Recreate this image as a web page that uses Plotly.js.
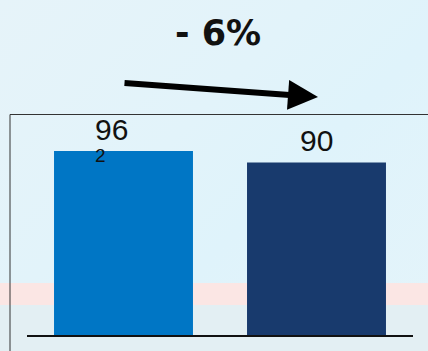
<!DOCTYPE html>
<html>
<head>
<meta charset="utf-8">
<script src="https://cdn.plot.ly/plotly-3.0.1.min.js"></script>
<style>
  html, body { margin: 0; padding: 0; }
  body {
    width: 428px; height: 351px; overflow: hidden;
    background: linear-gradient(135deg, #e6f3f9 0%, #e2f3fa 40%, #dff3fb 60%, #e4f4fa 100%);
  }
  #chart { width: 428px; height: 351px; }
</style>
</head>
<body>
<div id="chart"></div>
<script>
// ---- data ----
const categories = ["A", "B"];
const values = [96, 90];
const valueLabels = ["96", "90"];
const labelSuffix = ["2", ""];
const barColors = ["#0076C5", "#183A6D"];
const changeLabel = "- 6%";

const W = 428, H = 351;
const px = v => v / W;
const py = v => 1 - v / H;

const trace = {
  type: "bar",
  x: [0, 1],
  y: values,
  marker: { color: barColors, line: { width: 0 } },
  hoverinfo: "skip",
  showlegend: false
};

const annotations = [];
values.forEach((v, i) => {
  annotations.push({
    x: i, y: v, xref: "x", yref: "y",
    text: valueLabels[i], showarrow: false,
    xanchor: "center", yanchor: "middle",
    xshift: labelSuffix[i] ? -12 : 0, yshift: 22,
    borderpad: 0,
    font: { family: "Liberation Sans, Arial, sans-serif", size: 30, color: "#111" }
  });
  if (labelSuffix[i]) {
    annotations.push({
      x: i, y: v, xref: "x", yref: "y",
      text: labelSuffix[i], showarrow: false,
      xanchor: "center", yanchor: "middle",
      xshift: -23, yshift: -4,
      borderpad: 0,
      font: { family: "Liberation Sans, Arial, sans-serif", size: 19, color: "#111" }
    });
  }
});
// title
annotations.push({
  x: px(218), y: py(33), xref: "paper", yref: "paper",
  text: "<b>" + changeLabel + "</b>", showarrow: false,
  xanchor: "center", yanchor: "middle",
  font: { family: "DejaVu Sans, sans-serif", size: 35, color: "#111" }
});
// arrow
annotations.push({
  x: px(318), y: py(97), xref: "paper", yref: "paper",
  ax: -195, ay: -14, axref: "pixel", ayref: "pixel",
  text: "", showarrow: true, arrowhead: 2, arrowsize: 1, arrowwidth: 6,
  arrowcolor: "#000", standoff: 0, startstandoff: 0
});

const shapes = [
  // pink band
  { type: "rect", xref: "paper", yref: "paper", x0: 0, x1: 1, y0: py(305), y1: py(283),
    fillcolor: "#fbe6e4", line: { width: 0 }, layer: "below" },
  { type: "rect", xref: "paper", yref: "paper", x0: 0, x1: 1, y0: 0, y1: py(305),
    fillcolor: "#e3eff3", line: { width: 0 }, layer: "below" },
  // box
  { type: "rect", xref: "paper", yref: "paper", x0: px(10), x1: 1.05, y0: -0.05, y1: py(114.5),
    fillcolor: "rgba(0,0,0,0)", line: { color: "#333", width: 1 }, layer: "below" },
  // baseline
  { type: "line", xref: "paper", yref: "y", x0: px(27), x1: px(413), y0: 0, y1: 0,
    line: { color: "#111", width: 2 }, layer: "above" }
];

const layout = {
  width: W, height: H,
  margin: { l: 0, r: 0, t: 0, b: 0, pad: 0 },
  paper_bgcolor: "rgba(0,0,0,0)",
  plot_bgcolor: "rgba(0,0,0,0)",
  bargap: 0.28,
  xaxis: { range: [-123.5 / 193, 1 + 111.5 / 193], visible: false, fixedrange: true },
  yaxis: { range: [-(H - 336) / (185 / 96), 336 / (185 / 96)], visible: false, fixedrange: true },
  annotations: annotations,
  shapes: shapes,
  showlegend: false
};

Plotly.newPlot("chart", [trace], layout, { staticPlot: true, displayModeBar: false });
</script>
</body>
</html>
